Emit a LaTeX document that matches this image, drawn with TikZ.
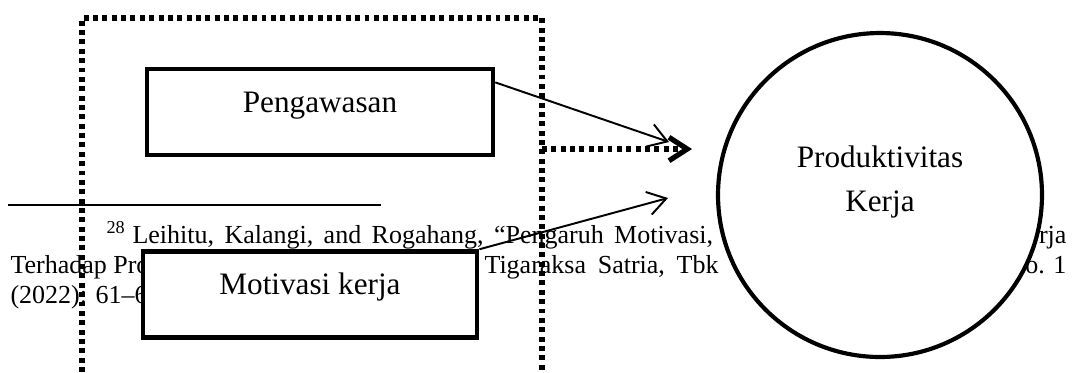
\documentclass[tikz,border=0pt]{standalone}
\usepackage{fontspec}
\setmainfont{Liberation Serif}
\usetikzlibrary{arrows.meta}
\newcommand\notefont[1]{\fontsize{10}{11.5}\selectfont\spaceskip #1\relax}

\begin{document}
\begin{tikzpicture}[x=0.3846pt,y=-0.3846pt,inner sep=0pt,
        varbox/.style={draw,line width=1.8pt,fill=white,minimum width=133pt,
          minimum height=33pt,text height=6pt,text depth=6pt,
          font=\fontsize{12}{14}\selectfont},
        target/.style={draw,circle,line width=1.6pt,fill=white,
          minimum size=124.6pt,align=center,text depth=12.4pt,
          font=\fontsize{12}{17}\selectfont},
        note/.style={anchor=base west,font=\notefont{2.5pt}},
        dotframe/.style={line width=2pt,dash pattern=on 1.9pt off 1.7pt},
        link/.style={line width=0.75pt,-{Straight Barb[length=7pt,width=9pt]}}]
        \useasboundingbox (0,0) rectangle (1073,372);
        % \draw[help lines,step=50] (0,0) grid (1073,372);
        % footnote underneath
        \draw[line width=0.5pt] (8,205) -- (381,205);
        \node[note,font=\notefont{4pt}] (fn1) at (106,243) {\textsuperscript{28}\hspace{2.5pt}Leihitu, Kalangi, and Rogahang, “Pengaruh Motivasi,};
        \node[note,anchor=base east] (fn1r) at (1067,243) {rja};
        \node[note] (fn2) at (10,273) {Terhadap Pro};
        \node[note,font=\notefont{4.5pt}] (fn2m) at (484,273) {Tigaraksa Satria, Tbk};
        \node[note,anchor=base east] (fn2r) at (1067,273) {No. 1};
        \node[note] (fn3) at (10,303) {(2022): 61–6};
        % variables
        \node[varbox] (peng) at (320,112) {Pengawasan};
        \node[varbox,minimum width=128.5pt] (moti) at (310,294.5) {Motivasi kerja};
        \node[target] (prod) at (880,195) {Produktivitas\\Kerja};
        \coordinate (tipA) at (669,142);
        \coordinate (tipB) at (668,198);
        \coordinate (tipC) at (692,149);
        \coordinate (frameR) at (542,149);
        \draw[link] ([yshift=-6pt]peng.north east) -- (tipA);
        \draw[link] (moti.north east) -- (tipB);
        % dotted frame, open at the bottom
        \draw[dotframe] (82,372) |- (542,18) -- (542,372);
        \draw[dotframe,-{Straight Barb[length=7pt,width=9pt]}] (frameR) -- (tipC);
\end{tikzpicture}
\end{document}
